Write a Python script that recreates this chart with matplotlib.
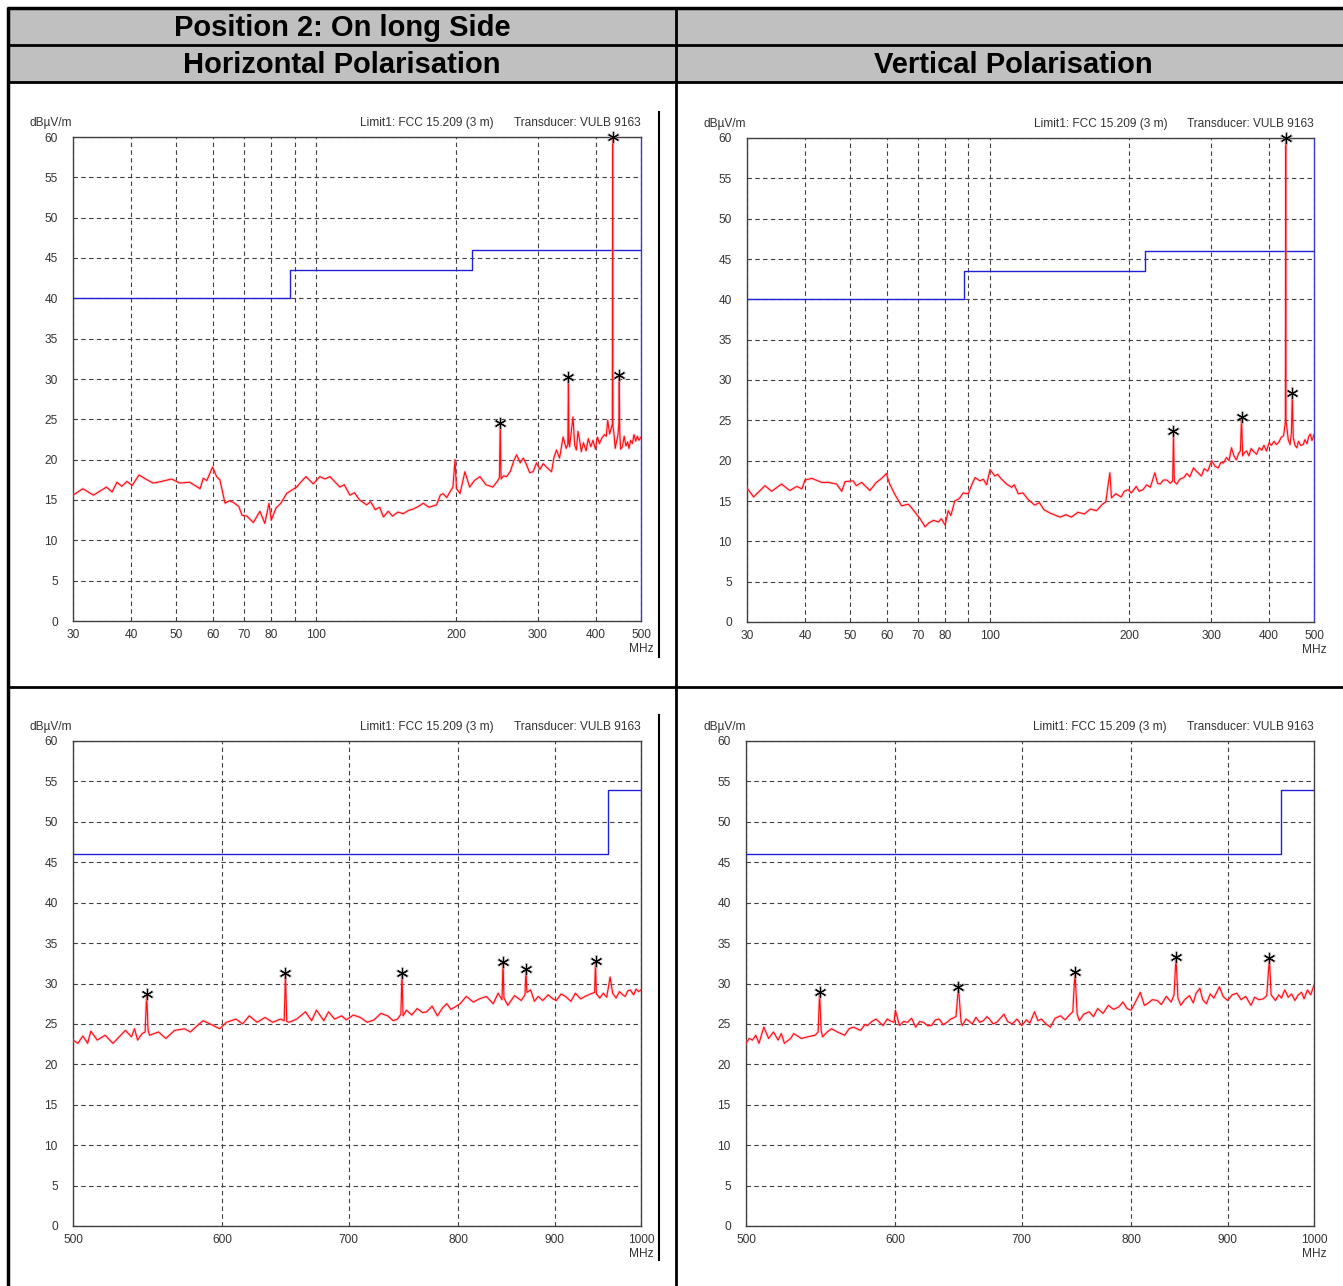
import numpy as np
import matplotlib.pyplot as plt
from matplotlib.patches import Rectangle
from matplotlib.ticker import NullLocator

plt.rcParams['font.family'] = ['Liberation Sans', 'DejaVu Sans']

# ---------------- data ----------------
# top-left: 30-500 MHz, horizontal polarisation
tl_freq = [30, 31.5, 33.2, 35.4, 36.4, 37.3, 38.2, 39.2, 40.2, 41.6, 43.0, 44.6, 46.5, 48.9, 50.9,
           53.5, 54.9, 56.3, 57.2, 58.2, 59.9, 61.1, 62.1, 63.7, 65.0, 66.4, 68.2, 69.3, 71.0, 73.3,
           75.7, 77.6, 79.2, 80.1, 82.0, 84.0, 86.4, 88.5, 90.8, 93.0, 95.1, 98.6, 101.9, 104.5, 107.1,
           110, 112.5, 115, 118.2, 121, 124, 128.5, 131, 134, 137, 139.6, 143, 146, 150, 154,
           158, 162, 166, 170, 175, 181.6, 185, 187.6, 191, 195, 197, 199, 200.5, 204, 209,
           214, 219, 225, 232, 240, 246, 248, 249, 250, 253, 257, 262, 266, 270, 275,
           279, 283, 288, 293, 298, 303, 308, 314, 321, 325, 329, 334, 340, 345, 348,
           349, 350, 351, 354, 357, 360, 363, 366, 369, 372, 376, 381, 385, 390, 394,
           399, 403, 407, 412, 417, 421, 424, 428, 432, 433.8, 434.5, 435.2, 437, 440, 442,
           446, 448, 449, 450, 452, 456, 460, 464, 468, 471, 475, 479, 483, 487, 491, 495, 500]
tl_level = [15.6, 16.4, 15.6, 16.6, 16.0, 17.2, 16.7, 17.3, 16.8, 18.1, 17.6, 17.1, 17.3, 17.6, 17.1,
            17.2, 16.8, 16.4, 17.7, 17.4, 19.1, 17.9, 17.5, 14.6, 14.9, 14.7, 14.2, 13.1, 13.0, 12.2,
            13.6, 12.1, 14.6, 12.5, 14.0, 14.6, 15.8, 16.2, 16.6, 17.3, 17.9, 17.0, 17.9, 17.6, 17.9,
            17.2, 16.6, 16.9, 15.6, 15.9, 15.0, 14.4, 14.8, 13.8, 14.1, 12.9, 13.6, 13.0, 13.5, 13.3,
            13.7, 13.9, 14.2, 14.6, 14.1, 14.4, 15.6, 15.8, 15.3, 16.2, 16.6, 20.0, 16.4, 15.8, 18.5,
            16.6, 17.4, 17.9, 16.9, 16.6, 17.4, 17.8, 24.5, 17.6, 18.0, 17.9, 18.6, 19.8, 20.6, 19.6,
            20.2, 19.5, 18.4, 18.5, 19.6, 18.8, 19.5, 19.0, 18.5, 20.3, 21.2, 20.2, 22.8, 21.4, 21.9,
            30.2, 22.2, 21.6, 23.4, 25.3, 21.8, 21.2, 23.5, 22.4, 21.0, 22.1, 21.1, 22.6, 21.6, 22.4,
            21.3, 22.8, 22.0, 22.7, 23.1, 22.9, 24.9, 23.2, 24.0, 24.4, 60.0, 24.0, 23.4, 21.4, 22.0,
            23.0, 24.5, 30.5, 23.5, 21.3, 21.6, 22.9, 21.7, 22.2, 21.4, 22.4, 22.0, 23.1, 22.3, 22.9, 22.4, 22.8]
tl_peak_f = [249, 349, 434.5, 449]
tl_peak_l = [24.5, 30.2, 60.0, 30.5]

# top-right: 30-500 MHz, vertical polarisation
tr_freq = [30, 31, 32.8, 33.9, 35.6, 37.1, 38.4, 39.4, 40.0, 41.4, 43.5, 45.0, 46.8, 48.0, 48.8,
           50.8, 51.6, 53.0, 55.2, 57.0, 58.5, 59.9, 60.9, 62.5, 64.6, 66.8, 67.8, 69.3, 70.8, 72.6,
           74.0, 75.7, 77.6, 78.7, 80.2, 81.4, 82.5, 84.1, 86.0, 87.7, 89.9, 91.5, 93.0, 95.3, 96.9,
           98.5, 100.2, 102.6, 104.0, 106.1, 108.8, 111.5, 113.0, 115.3, 118, 121, 125, 128, 131, 135,
           139, 142, 146, 150, 155, 160, 165, 170, 175, 178, 180, 181.6, 183, 187, 192,
           195, 198.8, 202, 207, 210, 214, 218, 222, 227, 230, 233, 237, 241, 245, 248,
           249, 250, 253, 257, 262, 266, 270, 275, 280, 286, 290, 295, 301, 306, 311,
           315, 319, 324, 328, 332, 336, 340, 344, 347, 349, 351, 354, 358, 362, 366,
           371, 376, 381, 386, 390, 395, 400, 405, 410, 415, 420, 425, 430, 433.8, 434.5,
           435.2, 440, 444, 447, 449, 451, 455, 459, 463, 468, 474, 478, 483, 487, 491, 495, 500]
tr_level = [16.6, 15.5, 16.9, 16.2, 17.1, 16.3, 16.8, 16.5, 17.6, 17.8, 17.3, 17.3, 17.1, 16.2, 17.4,
            17.5, 16.9, 17.3, 16.3, 17.3, 17.8, 18.4, 17.1, 15.8, 14.4, 14.6, 14.2, 13.5, 12.8, 11.8,
            12.3, 12.6, 12.4, 12.8, 12.0, 13.8, 13.2, 15.0, 15.3, 16.0, 15.9, 17.0, 17.9, 17.5, 17.7,
            17.0, 18.9, 18.1, 18.3, 17.7, 17.1, 16.7, 17.0, 15.9, 16.0, 15.2, 14.5, 14.8, 13.9, 13.5,
            13.2, 13.0, 13.3, 13.0, 13.6, 13.4, 14.0, 13.8, 14.6, 14.9, 17.0, 18.5, 15.4, 15.9, 15.5,
            16.2, 16.4, 16.0, 16.8, 16.2, 16.4, 17.0, 16.7, 18.5, 17.2, 17.1, 17.6, 17.6, 17.2, 17.5,
            23.7, 17.4, 17.1, 17.7, 17.9, 18.4, 18.0, 19.1, 18.6, 18.1, 19.0, 18.7, 20.0, 19.3, 19.1,
            19.8, 19.7, 20.4, 20.0, 21.6, 20.6, 20.1, 20.9, 21.2, 25.4, 20.6, 21.0, 21.2, 20.6, 21.5,
            21.1, 20.8, 21.6, 21.3, 21.9, 21.2, 22.2, 21.9, 22.4, 22.0, 22.3, 22.9, 23.1, 24.8, 60.0,
            25.0, 22.6, 22.0, 23.5, 28.4, 22.9, 21.9, 21.6, 22.4, 21.9, 22.0, 22.6, 22.1, 23.0, 23.3, 22.5, 23.2]
tr_peak_f = [249, 349, 434.5, 449]
tr_peak_l = [23.7, 25.4, 60.0, 28.4]

# bottom-left: 500-1000 MHz, horizontal polarisation
bl_freq = [500, 503, 506, 509, 511, 515, 520, 525, 529, 533, 537, 539, 541, 544, 546,
           547, 548, 549, 555, 560, 566, 573, 577, 582, 586, 591, 598, 603, 610, 615,
           620, 626, 632, 638, 644, 647, 648, 649, 651, 657, 664, 669, 673, 679, 683,
           688, 694, 698, 704, 710, 716, 722, 728, 734, 739, 743, 746, 747, 748, 751,
           756, 761, 766, 770, 775, 780, 785, 789, 793, 797, 802, 808, 815, 821, 828,
           835, 840, 844, 845, 846, 850, 857, 864, 868, 869, 870, 874, 878, 882, 887,
           893, 898, 902, 907, 912, 918, 923, 929, 934, 940, 945, 946, 947, 948, 951,
           955, 959, 963, 966, 970, 974, 978, 981, 984, 987, 991, 994, 997, 1000]
bl_level = [23.0, 22.6, 23.5, 22.6, 24.1, 23.0, 23.6, 22.6, 23.4, 24.2, 23.4, 24.4, 23.0, 23.8, 24.0,
            28.7, 24.2, 23.6, 24.0, 23.2, 24.2, 24.4, 24.0, 24.8, 25.4, 25.0, 24.4, 25.2, 25.6, 25.0,
            26.0, 25.2, 25.8, 25.2, 25.6, 25.4, 31.3, 25.3, 25.2, 25.6, 26.5, 25.4, 26.7, 25.4, 26.5,
            25.6, 26.0, 25.5, 26.1, 25.8, 25.2, 25.5, 26.3, 26.0, 25.4, 25.6, 26.2, 31.3, 26.0, 26.7,
            26.1, 26.9, 26.4, 26.5, 27.2, 26.0, 27.0, 27.5, 26.8, 27.1, 27.5, 28.4, 27.7, 28.1, 28.4,
            27.5, 28.8, 28.0, 32.7, 28.2, 27.3, 28.5, 27.9, 28.6, 31.8, 28.9, 29.2, 27.8, 28.4, 27.9,
            28.6, 28.1, 27.9, 28.7, 28.4, 27.8, 28.8, 28.1, 28.4, 28.7, 28.9, 32.8, 28.7, 28.6, 28.2,
            28.8, 28.3, 30.8, 28.8, 28.2, 29.0, 28.6, 28.4, 29.1, 29.2, 28.6, 29.3, 29.0, 29.2]
bl_peak_f = [547, 648, 747, 845, 869, 946]
bl_peak_l = [28.7, 31.3, 31.3, 32.7, 31.8, 32.8]

# bottom-right: 500-1000 MHz, vertical polarisation
br_freq = [500, 502, 504, 506, 508, 511, 514, 517, 520, 522, 524, 528, 530, 535, 539,
           544, 546, 547, 548, 549, 552, 555, 559, 564, 567, 570, 575, 578, 580, 583,
           586, 591, 594, 596, 599, 600, 603, 606, 609, 612, 615, 618, 621, 624, 627,
           630, 633, 636, 639, 642, 646, 648, 650, 651, 654, 656, 659, 662, 665, 668,
           671, 673, 676, 679, 682, 685, 688, 692, 696, 700, 704, 707, 711, 714, 717,
           721, 725, 729, 734, 738, 742, 745, 747, 749, 751, 755, 760, 764, 768, 773,
           778, 783, 788, 792, 796, 800, 805, 809, 813, 816, 821, 826, 830, 835, 838,
           840, 843, 845, 847, 850, 854, 859, 863, 866, 870, 873, 877, 881, 885, 891,
           895, 900, 905, 910, 915, 920, 926, 930, 935, 940, 944, 947, 949, 954, 958,
           961, 965, 969, 973, 977, 981, 985, 988, 992, 996, 1000]
br_level = [22.6, 23.2, 23.0, 23.6, 22.6, 24.6, 23.2, 24.0, 23.0, 23.8, 22.6, 23.2, 23.8, 23.2, 23.4,
            23.6, 24.0, 29.0, 24.2, 23.4, 24.0, 24.4, 24.0, 23.6, 24.4, 24.6, 24.2, 24.9, 24.8, 25.3,
            25.6, 24.8, 25.6, 25.4, 25.2, 26.7, 24.8, 25.3, 25.2, 25.7, 24.6, 25.3, 25.2, 24.8, 24.8,
            25.5, 25.6, 24.9, 25.2, 25.6, 25.9, 29.6, 25.3, 24.8, 25.6, 25.4, 25.0, 25.8, 25.2, 25.4,
            25.9, 25.6, 25.0, 25.2, 25.7, 26.2, 25.3, 25.0, 25.6, 24.8, 25.5, 25.1, 26.5, 25.4, 25.6,
            25.0, 24.6, 25.7, 26.0, 25.5, 26.1, 26.5, 31.4, 26.2, 25.4, 26.2, 26.5, 25.9, 26.9, 26.3,
            27.3, 26.8, 27.1, 27.7, 26.9, 26.7, 27.9, 28.9, 27.3, 27.5, 28.0, 27.9, 27.4, 28.4, 28.0,
            27.7, 28.6, 33.3, 28.2, 27.3, 28.0, 28.5, 27.6, 28.8, 29.4, 28.0, 27.5, 28.7, 28.2, 29.6,
            28.4, 27.9, 28.6, 28.8, 28.0, 28.4, 27.3, 28.3, 28.0, 28.1, 28.5, 33.2, 28.6, 27.9, 28.6,
            28.2, 29.2, 28.3, 28.7, 27.9, 28.6, 28.9, 28.1, 29.2, 28.6, 29.8]
br_peak_f = [547, 648, 747, 845, 947]
br_peak_l = [29.0, 29.6, 31.4, 33.3, 33.2]

# FCC 15.209 (3 m) limit
low_lim_f = [30, 88, 88, 216, 216, 500]
low_lim_l = [40, 40, 43.5, 43.5, 46, 46]
high_lim_f = [500, 960, 960, 1000]
high_lim_l = [46, 46, 54, 54]

low_ticks = [30, 40, 50, 60, 70, 80, 90, 100, 200, 300, 400, 500]
low_labels = ['30', '40', '50', '60', '70', '80', '', '100', '200', '300', '400', '500']
high_ticks = [500, 600, 700, 800, 900, 1000]
high_labels = ['500', '600', '700', '800', '900', '1000']
y_ticks = list(range(0, 61, 5))

# ---------------- figure ----------------
W, H = 1343, 1286
fig = plt.figure(figsize=(W / 100, H / 100), dpi=100)
bg = fig.add_axes([0, 0, 1, 1])
bg.set_xlim(0, W)
bg.set_ylim(H, 0)
bg.axis('off')

# table header + borders
bg.add_patch(Rectangle((8, 8), W - 8, 74, color='#c0c0c0', zorder=0))
for y, lw in [(8, 2.5), (45, 2), (82, 2), (687, 2)]:
    bg.plot([7, W], [y, y], color='black', lw=lw, solid_capstyle='butt')
for x, lw in [(8, 2.5), (676, 2)]:
    bg.plot([x, x], [7, H], color='black', lw=lw, solid_capstyle='butt')

bg.text(342, 28, 'Position 2: On long Side', ha='center', va='center',
        fontsize=21, fontweight='bold')
bg.text(342, 65, 'Horizontal Polarisation', ha='center', va='center',
        fontsize=21, fontweight='bold')
bg.text(1013, 65, 'Vertical Polarisation', ha='center', va='center',
        fontsize=21, fontweight='bold')

# stray vertical rules right of the left-hand plots
bg.plot([659, 659], [112, 657], color='black', lw=1.5)
bg.plot([659, 659], [715, 1260], color='black', lw=1.5)

SMALL = 8.6


def panel(x0, y0, x1, y1, freq, level, pk_f, pk_l, lim_f, lim_l, ticks, labels, blue_right):
    ax = fig.add_axes([x0 / W, 1 - y1 / H, (x1 - x0) / W, (y1 - y0) / H])
    ax.set_xscale('log')
    ax.set_xlim(ticks[0], ticks[-1])
    ax.set_ylim(0, 60)
    ax.set_xticks(ticks, labels)
    ax.xaxis.set_minor_locator(NullLocator())
    ax.set_yticks(y_ticks)
    ax.tick_params(length=0, labelsize=SMALL, colors='#333333')
    ax.tick_params(axis='y', pad=11)
    ax.tick_params(axis='x', pad=6)
    ax.grid(True, color='#404040', lw=0.8, ls=(0, (4, 3)))
    for s in ax.spines.values():
        s.set_color('#404040')
        s.set_linewidth(1)
    if blue_right:
        ax.spines['right'].set_color('#3a3ad0')

    ax.plot(lim_f, lim_l, color='#2020d8', lw=1, zorder=3)
    ax.plot(freq, level, color='#ff90b0', lw=2.2, alpha=0.35, zorder=3)
    ax.plot(freq, level, color='#ff1010', lw=0.85, zorder=4)
    ax.plot(pk_f, pk_l, ls='none', marker=(6, 2, 0), ms=9.5, mew=1.8,
            color='#a8a8a8', alpha=0.55, zorder=5, clip_on=False)
    ax.plot(pk_f, pk_l, ls='none', marker=(6, 2, 0), ms=8, mew=0.8,
            color='black', zorder=6, clip_on=False)

    bg.text(x0 - 43, y0 - 14, 'dBµV/m', fontsize=SMALL, color='#333333', va='center')
    bg.text(x0 + 421, y0 - 14, 'Limit1: FCC 15.209 (3 m)', fontsize=SMALL,
            color='#333333', va='center', ha='right')
    bg.text(x1, y0 - 14, 'Transducer: VULB 9163', fontsize=SMALL,
            color='#333333', va='center', ha='right')
    bg.text(x1, y1 + 28, 'MHz', fontsize=SMALL, color='#333333', va='center', ha='center')
    return ax


panel(73, 137, 641, 621, tl_freq, tl_level, tl_peak_f, tl_peak_l,
      low_lim_f, low_lim_l, low_ticks, low_labels, True)
panel(747, 138, 1314, 622, tr_freq, tr_level, tr_peak_f, tr_peak_l,
      low_lim_f, low_lim_l, low_ticks, low_labels, True)
panel(73, 741, 641, 1226, bl_freq, bl_level, bl_peak_f, bl_peak_l,
      high_lim_f, high_lim_l, high_ticks, high_labels, False)
panel(746, 741, 1314, 1226, br_freq, br_level, br_peak_f, br_peak_l,
      high_lim_f, high_lim_l, high_ticks, high_labels, False)

fig.savefig('out.png', dpi=100)
